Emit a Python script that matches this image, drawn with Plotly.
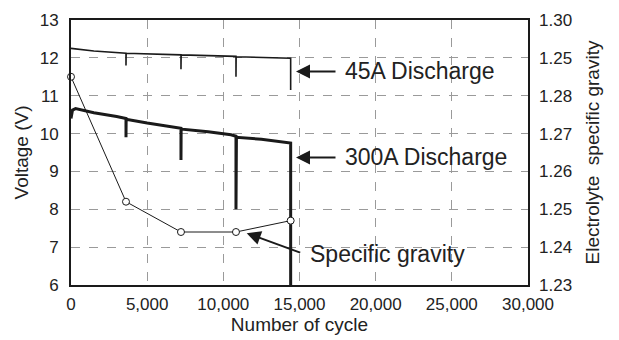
import plotly.graph_objects as go

# 45A discharge voltage (V)
cycles_45a = [0, 1500, 3610, 3610, 3620, 7220, 7220, 7230, 10830, 10830, 10840, 14420, 14420]
volt_45a = [12.25, 12.18, 12.12, 11.8, 12.12, 12.08, 11.7, 12.08, 12.04, 11.5, 12.03, 11.99, 11.15]

# 300A discharge voltage (V)
cycles_300a = [0, 100, 300, 1500, 3000, 3610, 3610, 3620, 5000, 7220, 7220, 7230, 9000, 10500,
               10830, 10830, 10860, 12500, 14420, 14420]
volt_300a = [10.4, 10.62, 10.66, 10.55, 10.45, 10.4, 9.9, 10.38, 10.28, 10.14, 9.3, 10.12, 10.05,
             9.97, 9.93, 8.0, 9.9, 9.85, 9.75, 6.0]

# Electrolyte specific gravity
cycles_sg = [0, 3610, 7220, 10830, 14420]
sg_values = [1.285, 1.252, 1.244, 1.244, 1.247]

x_ticks = [0, 5000, 10000, 15000, 20000, 25000, 30000]
x_tick_labels = ["0", "5,000", "10,000", "15,000", "20,000", "25,000", "30,000"]
y_ticks = [6, 7, 8, 9, 10, 11, 12, 13]
y2_ticks = [1.23, 1.24, 1.25, 1.26, 1.27, 1.28, 1.29, 1.30]
y2_tick_labels = ["1.23", "1.24", "1.25", "1.26", "1.27", "1.28", "1.25", "1.30"]

FONT = "Liberation Sans, Arial, sans-serif"

fig = go.Figure()
fig.add_trace(go.Scatter(x=cycles_45a, y=volt_45a, mode="lines",
                         line=dict(color="#1a1a1a", width=1.6), showlegend=False))
fig.add_trace(go.Scatter(x=cycles_300a, y=volt_300a, mode="lines",
                         line=dict(color="#1a1a1a", width=3), showlegend=False))
fig.add_trace(go.Scatter(x=cycles_sg, y=sg_values, yaxis="y2", mode="lines+markers",
                         line=dict(color="#1a1a1a", width=1),
                         marker=dict(symbol="circle", size=7, color="white",
                                     line=dict(color="#1a1a1a", width=1)),
                         cliponaxis=False, showlegend=False))

fig.update_layout(
    width=619, height=340,
    margin=dict(l=71, r=91, t=20, b=55, autoexpand=False),
    paper_bgcolor="white", plot_bgcolor="white",
    font=dict(family=FONT, color="#222"),
    xaxis=dict(range=[0, 30000], tickvals=x_ticks, ticktext=x_tick_labels,
               tickfont=dict(size=17), ticks="", ticklabelstandoff=3,
               showline=True, linecolor="#1a1a1a", linewidth=2, mirror=True,
               zeroline=False, showgrid=True, gridcolor="#9a9a9a", gridwidth=1,
               griddash="dash",
               title=dict(text="Number of cycle", font=dict(size=19), standoff=4)),
    yaxis=dict(range=[6, 13], tickvals=y_ticks, tickfont=dict(size=17), ticks="",
               ticklabelstandoff=7,
               showline=True, linecolor="#1a1a1a", linewidth=2, mirror=True,
               zeroline=False, showgrid=True, gridcolor="#9a9a9a", gridwidth=1,
               griddash="dash",
               title=dict(text="Voltage (V)", font=dict(size=19), standoff=6)),
    yaxis2=dict(range=[1.23, 1.30], overlaying="y", side="right",
                tickvals=y2_ticks, ticktext=y2_tick_labels, tickfont=dict(size=17),
                ticks="", ticklabelstandoff=10, showgrid=False, zeroline=False,
                showline=False,
                title=dict(text="Electrolyte  specific gravity", font=dict(size=19), standoff=14)),
)

ann_font = dict(family=FONT, size=23, color="#222")
arrow = dict(showarrow=True, arrowhead=2, arrowsize=1.4, arrowwidth=2, arrowcolor="#1a1a1a",
             text="", xref="x", yref="y")
fig.add_annotation(x=14770, y=11.64, ax=41, ay=0, **arrow)
fig.add_annotation(x=14770, y=9.37, ax=41, ay=0, **arrow)
fig.add_annotation(x=11534, y=7.37, ax=55, ay=20, **arrow)

fig.add_annotation(x=17856, y=11.64, text="45A Discharge", showarrow=False,
                   xanchor="left", yanchor="middle", font=ann_font)
fig.add_annotation(x=17856, y=9.37, text="300A Discharge", showarrow=False,
                   xanchor="left", yanchor="middle", font=ann_font)
fig.add_annotation(x=15558, y=6.82, text="Specific gravity", showarrow=False,
                   xanchor="left", yanchor="middle", font=ann_font)

fig.write_html("out.html", config={"displayModeBar": False},
               post_script="document.body.style.margin='0';")
